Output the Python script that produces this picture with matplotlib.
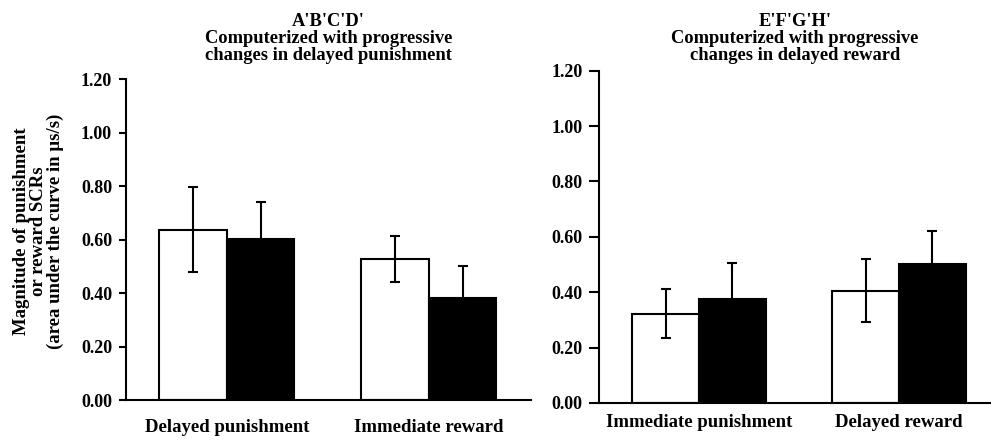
import matplotlib
matplotlib.use('Agg')
import matplotlib.pyplot as plt
import numpy as np

plt.rcParams['font.family'] = ['Liberation Serif', 'DejaVu Serif']
plt.rcParams['font.weight'] = 'bold'

# left panel
left_title = "A'B'C'D'\nComputerized with progressive\nchanges in delayed punishment"
left_cats = ['Delayed punishment', 'Immediate reward']
left_white = [0.636, 0.528]
left_white_err = [0.159, 0.085]
left_black = [0.602, 0.383]
left_black_err = [0.139, 0.118]

# right panel
right_title = "E'F'G'H'\nComputerized with progressive\nchanges in delayed reward"
right_cats = ['Immediate punishment', 'Delayed reward']
right_white = [0.323, 0.405]
right_white_err = [0.087, 0.114]
right_black = [0.376, 0.503]
right_black_err = [0.130, 0.117]

yticks = [0.0, 0.2, 0.4, 0.6, 0.8, 1.0, 1.2]
ylabel = 'Magnitude of punishment\nor reward SCRs\n(area under the curve in μs/s)'

fig = plt.figure(figsize=(9.91, 4.40), dpi=100)
ax1 = fig.add_axes([0.1271, 0.0909, 0.4087, 0.7295])
ax2 = fig.add_axes([0.6044, 0.0841, 0.3956, 0.7552])


def draw_panel(ax, cats, white, white_err, black, black_err, title, xmax, ticklen, xpad, tpad):
    x = np.arange(len(cats))
    w = 0.334
    ax.bar(x - w / 2, white, w, color='white', edgecolor='black', linewidth=1.5, zorder=2)
    ax.bar(x + w / 2, black, w, color='black', edgecolor='black', linewidth=1.5, zorder=2)
    ax.errorbar(x - w / 2, white, yerr=white_err, fmt='none', ecolor='black',
                elinewidth=1.5, capsize=3.5, capthick=1.5, zorder=3)
    ax.errorbar(x + w / 2, black, yerr=black_err, fmt='none', ecolor='black',
                elinewidth=1.5, capsize=3.5, capthick=1.5, zorder=1)
    ax.set_xlim(-0.5, xmax)
    ax.set_ylim(0, 1.2)
    ax.set_yticks(yticks)
    ax.set_yticklabels(['%.2f' % t for t in yticks], fontsize=13, fontweight='bold')
    ax.set_xticks(x)
    ax.set_xticklabels(cats, fontsize=13.5, fontweight='bold')
    ax.tick_params(axis='x', length=0, pad=xpad)
    ax.tick_params(axis='y', length=ticklen, width=1.5, direction='out', pad=5)
    for s in ['top', 'right']:
        ax.spines[s].set_visible(False)
    for s in ['left', 'bottom']:
        ax.spines[s].set_linewidth(1.5)
    ax.set_title(title, fontsize=13.3, fontweight='bold', pad=tpad, linespacing=0.98)


draw_panel(ax1, left_cats, left_white, left_white_err, left_black, left_black_err,
           left_title, 1.505, 5, 14, 14)
draw_panel(ax2, right_cats, right_white, right_white_err, right_black, right_black_err,
           right_title, 1.46, 7, 8, 8)

fig.text(0.039, 0.475, ylabel, rotation=90, ha='center', va='center',
         multialignment='center', fontsize=13.5, fontweight='bold', linespacing=1.0)

fig.savefig('out.png', dpi=100)
